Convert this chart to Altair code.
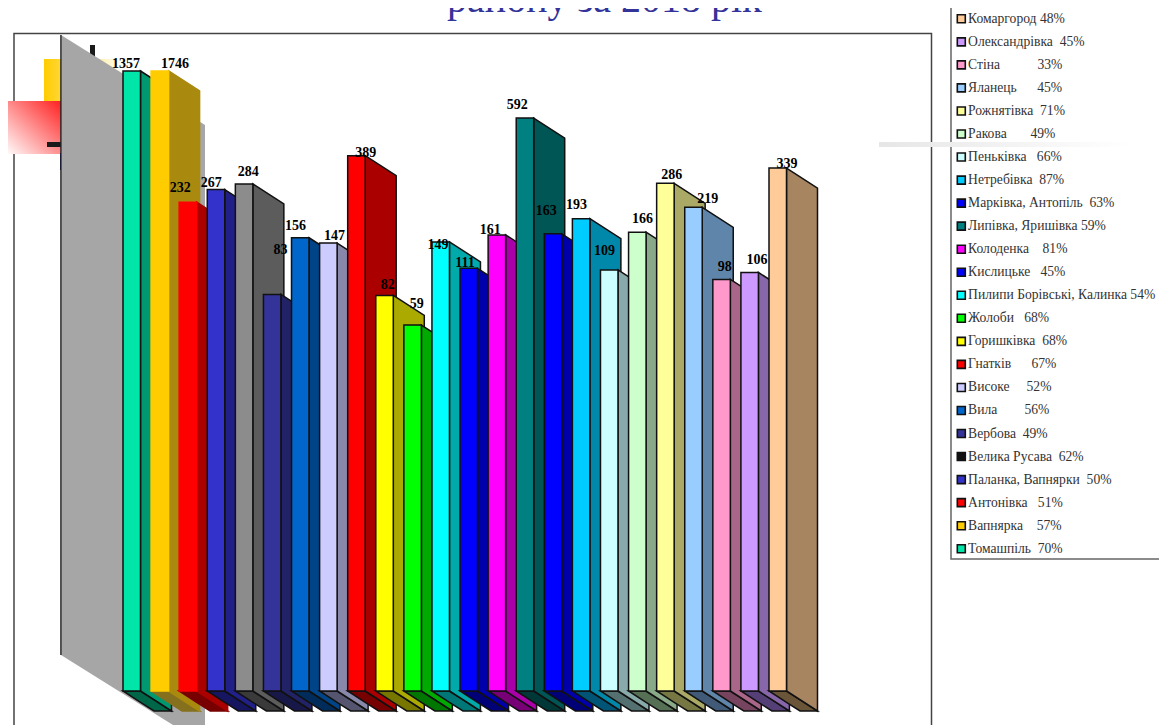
import altair as alt
import pandas as pd

NB = "\u00a0"

# ---- data ----
names = ["Томашпіль", "Вапнярка", "Антонівка", "Паланка, Вапнярки", "Велика Русава", "Вербова",
         "Вила", "Високе", "Гнатків", "Горишківка", "Жолоби", "Пилипи Борівські, Калинка",
         "Кислицьке", "Колоденка", "Липівка, Яришівка", "Марківка, Антопіль", "Нетребівка",
         "Пеньківка", "Ракова", "Рожнятівка", "Яланець", "Стіна", "Олександрівка", "Комаргород"]
gaps = [1, 3, 2, 1, 1, 1, 7, 4, 5, 1, 2, 0, 2, 3, 0, 1, 1, 2, 6, 1, 5, 10, 1, 0]
percents = [70, 57, 51, 50, 62, 49, 56, 52, 67, 68, 68, 54, 45, 81, 59, 63, 87, 66, 49, 71, 45, 33, 45, 48]
values = [1357, 1746, 232, 267, 284, 83, 156, 147, 389, 82, 59, 149, 111, 161, 592, 163, 193, 109,
          166, 286, 219, 98, 106, 339]
fronts = ["#00E5A8", "#FFCC00", "#FF0000", "#3333CC", "#8C8C8C", "#333399", "#0066CC", "#CCCCFF",
          "#FF0000", "#FFFF00", "#00FF00", "#00FFFF", "#0000FF", "#FF00FF", "#008080", "#0000FF",
          "#00CCFF", "#CCFFFF", "#CCFFCC", "#FFFF99", "#99CCFF", "#FF99CC", "#CC99FF", "#FFCC99"]
sides = ["#009870", "#A98A0E", "#AA0000", "#202088", "#5C5C5C", "#222266", "#004488", "#8888AA",
         "#AA0000", "#AAAA00", "#00AA00", "#00AAAA", "#0000AA", "#AA00AA", "#005555", "#0000AA",
         "#0088AA", "#88AAAA", "#88AA88", "#AAAA66", "#6085AA", "#AA6688", "#8866AA", "#A68560"]
floors = ["#006648", "#85701E", "#770000", "#151560", "#3A3A3A", "#181848", "#002C5C", "#555570",
          "#770000", "#777700", "#007700", "#007777", "#000077", "#770077", "#003838", "#000077",
          "#005577", "#557070", "#557055", "#777744", "#405A77", "#774460", "#553F77", "#6B5538"]
outlined = [True, False, False] + [True] * 21
swatches = [("#111111" if n == "Велика Русава" else c) for n, c in zip(names, fronts)]
label_dx = [3, 24, 1, 4, 13, 17, 4, 15, 18, 12, 13, 6, 5, 2, 1, 2, 4, 4, 14, 15, 23, 12, 16, 18]
label_top = [3, 3, 10, 3, 8, 40, 8, 3, -1, 6, 17, -7, 1, 1, 9, 19, 10, 15, 9, 4, 4, 8, 8, 0]
title_text = "району за 2018 рік"

# ---- geometry of the 3-D projection, in pixels ----
W, H = 1151, 717
PX_I = 28.087        # pixels per bar slot
PX_D = 620 / 3       # pixels per decade of the log value axis
BAR_W, DEPTH_X, DEPTH_Y = 17.5, 31, 20
X0, Y0 = 123 - 8, 691 - 8   # first bar's left edge, baseline


def xu(px):          # horizontal pixel length -> bar-slot units
    return px / PX_I


def drop(py):        # vertical pixel drop -> factor on the log axis
    return 10 ** (-py / PX_D)


x_scale = alt.Scale(domain=[-X0 / PX_I, (W - X0) / PX_I], range=[0, W])
y_scale = alt.Scale(type="log", domain=[drop(H - Y0), 10 ** (Y0 / PX_D)], range=[H, 0], nice=False)

faces = []


def add(face, fill, black, pts):
    for x, y, y2 in pts:
        faces.append(dict(face=face, fill=fill, stroke="#111111" if black else fill, x=x, y=y, y2=y2))


w, dx = xu(BAR_W), xu(DEPTH_X)
for i, v in enumerate(values):
    h = min(v, 1000)
    add(f"{i:02d}a", floors[i], outlined[i], [
        (i, 1, 1),
        (i + w, 1, drop(BAR_W / DEPTH_X * DEPTH_Y)),
        (i + dx, drop((DEPTH_X - BAR_W) / DEPTH_X * DEPTH_Y), drop(DEPTH_Y)),
        (i + w + dx, drop(DEPTH_Y), drop(DEPTH_Y))])
    add(f"{i:02d}b", sides[i], outlined[i], [
        (i + w, h, 1), (i + w + dx, h * drop(DEPTH_Y), drop(DEPTH_Y))])
    add(f"{i:02d}c", fronts[i], outlined[i], [(i, h, 1), (i + w, h, 1)])
faces_df = pd.DataFrame(faces)

labels_df = pd.DataFrame(dict(
    x=[i + xu(d) for i, d in enumerate(label_dx)],
    y=[min(v, 1000) * drop(-t) for v, t in zip(values, label_top)],
    text=[str(v) for v in values],
    name=[f"{n}{NB * g} {p}%" for n, g, p in zip(names, gaps, percents)],
))

one = pd.DataFrame({"a": [0]})


def rect(x, x2, y, y2, **kw):
    return alt.Chart(one).mark_rect(**kw).encode(
        x=alt.value(x - 8), x2=alt.value(x2 - 8), y=alt.value(y - 8), y2=alt.value(y2 - 8))


def grad(c1, c2, x1=0, y1=0, x2=1, y2=0):
    return alt.LinearGradient(gradient="linear", x1=x1, y1=y1, x2=x2, y2=y2,
                              stops=[alt.GradientStop(color=c1, offset=0),
                                     alt.GradientStop(color=c2, offset=1)])


frame = rect(14, 931.5, 33.5, 760, fill="white", stroke="#444444", strokeWidth=1.5)
yellow = rect(44, 124, 59, 101, fill=grad("#FFCC00", "#FFFFFF"))
red = rect(5, 61, 101, 154, fill=grad("#FF2020", "#FFFFFF", 1, 0, 0, 1))
tick_v = rect(90, 95, 45, 60, fill="#1A1A1A")
tick_h = rect(47, 61, 142, 147, fill="#1A1A1A")
navy = rect(60, 62, 153, 170, fill="#000080")
fade = rect(879, 1130, 142, 147, fill=grad("#E6E6E6", "#FFFFFF"))
legend_box = rect(951, 1180, 6.5, 559, fill="white", stroke="#666666", strokeWidth=1.5)

wall_df = pd.DataFrame(dict(
    x=[xu(61 - 123), xu(205 - 123)],
    y=[drop(35 - 691), drop(125 - 691)],
    y2=[drop(655 - 691), drop(745 - 691)]))
wall = alt.Chart(wall_df).mark_area(color="#A6A6A6", clip=True).encode(
    x=alt.X("x:Q", scale=x_scale, axis=None),
    y=alt.Y("y:Q", scale=y_scale, axis=None),
    y2="y2:Q")
wall_edge = rect(60.2, 61.6, 35, 655, fill="#222222")

bars = alt.Chart(faces_df).mark_area(strokeWidth=1.5, strokeJoin="miter", clip=True).encode(
    x=alt.X("x:Q", scale=x_scale, axis=None),
    y=alt.Y("y:Q", scale=y_scale, axis=None),
    y2="y2:Q",
    detail="face:N",
    fill=alt.Fill("fill:N", scale=None),
    stroke=alt.Stroke("stroke:N", scale=None))

text = alt.Chart(labels_df).mark_text(
    font="Liberation Serif", fontSize=14, fontWeight="bold", color="black",
    align="center", baseline="alphabetic").encode(
    x=alt.X("x:Q", scale=x_scale, axis=None),
    y=alt.Y("y:Q", scale=y_scale, axis=None),
    text="text:N")

legend_keys = alt.Chart(labels_df).mark_point(shape="square", filled=True, size=0).encode(
    x=alt.X("x:Q", scale=x_scale, axis=None),
    y=alt.Y("y:Q", scale=y_scale, axis=None),
    color=alt.Color(
        "name:N",
        scale=alt.Scale(domain=labels_df["name"].tolist()[::-1], range=swatches[::-1]),
        legend=alt.Legend(
            title=None, orient="none", legendX=946.5, legendY=4, columns=1,
            symbolType="square", symbolSize=64, symbolStrokeColor="#111111", symbolStrokeWidth=1.6,
            symbolOpacity=1, labelFont="Liberation Serif", labelFontSize=13.6, labelColor="#333333",
            labelLimit=220, rowPadding=8.04, labelOffset=0, padding=0, symbolOffset=0)))

title = alt.Chart(one).mark_text(
    text=title_text, font="Liberation Serif", fontSize=40, color="#333399", align="left",
    baseline="alphabetic").encode(x=alt.value(447 - 8), y=alt.value(12 - 8))

chart = alt.layer(
    frame, yellow, red, tick_v, tick_h, navy, wall, wall_edge, bars, text,
    legend_box, fade, legend_keys, title
).properties(width=W, height=H, padding=0, background="white",
             autosize=alt.AutoSizeParams(type="none")
).configure_view(stroke=None)

chart.save("out.html", embed_options={"renderer": "svg", "actions": False})
